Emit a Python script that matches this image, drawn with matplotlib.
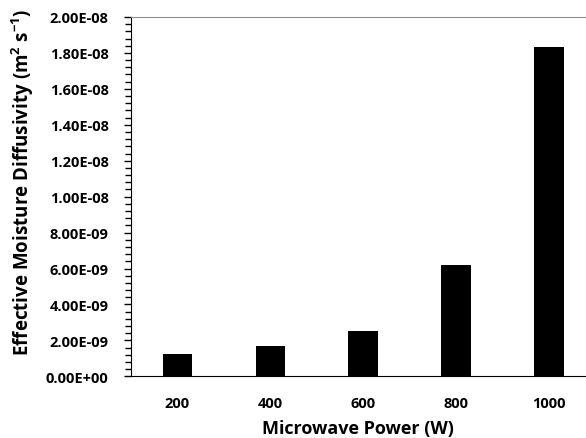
import matplotlib
matplotlib.use('Agg')
import matplotlib.pyplot as plt
from matplotlib.ticker import MultipleLocator, AutoMinorLocator, FuncFormatter

# Dados
power_labels = ['200', '400', '600', '800', '1000']
diffusivity = [1.24e-9, 1.69e-9, 2.55e-9, 6.18e-9, 18.31e-9]

plt.rcParams['font.family'] = ['Open Sans', 'DejaVu Sans']
plt.rcParams['font.weight'] = 'bold'
plt.rcParams['mathtext.fontset'] = 'custom'
plt.rcParams['mathtext.rm'] = 'Open Sans:bold'
plt.rcParams['mathtext.it'] = 'Open Sans:bold'
plt.rcParams['mathtext.bf'] = 'Open Sans:bold'

fig = plt.figure(figsize=(5.86, 4.39), dpi=100)
# eixo propositalmente mais largo que a figura (área do gráfico cortada à direita)
ax = fig.add_axes([0.2235, 0.1405, 0.7925, 0.8185])

x = list(range(len(power_labels)))
ax.bar(x, diffusivity, width=0.316, color='black')

ax.set_xlim(-0.5, len(power_labels) - 0.5)
ax.set_ylim(0, 2.0e-8)
ax.set_xticks(x)
ax.set_xticklabels(power_labels)
ax.yaxis.set_major_locator(MultipleLocator(2e-9))
ax.yaxis.set_minor_locator(AutoMinorLocator(5))
ax.yaxis.set_major_formatter(FuncFormatter(lambda v, p: f'{v:.2E}'))

ax.tick_params(axis='x', length=0, pad=14, labelsize=10.5)
ax.tick_params(axis='y', which='major', length=5, width=1, pad=11, labelsize=10.5)
ax.tick_params(axis='y', which='minor', length=4, width=1)

ax.spines['top'].set_color('#8c8c8c')
ax.spines['right'].set_visible(False)
ax.spines['left'].set_color('black')
ax.spines['bottom'].set_color('black')

ax.set_xlabel('Microwave Power (W)', fontsize=13, fontweight='bold')
ax.set_ylabel('Effective Moisture Diffusivity (m$^{2}$ s$^{-1}$)', fontsize=13.5,
              fontweight='bold')
ax.xaxis.set_label_coords(0.489, -0.119)
ax.yaxis.set_label_coords(-0.2046, 0.542)

fig.savefig('out.png', dpi=100)
